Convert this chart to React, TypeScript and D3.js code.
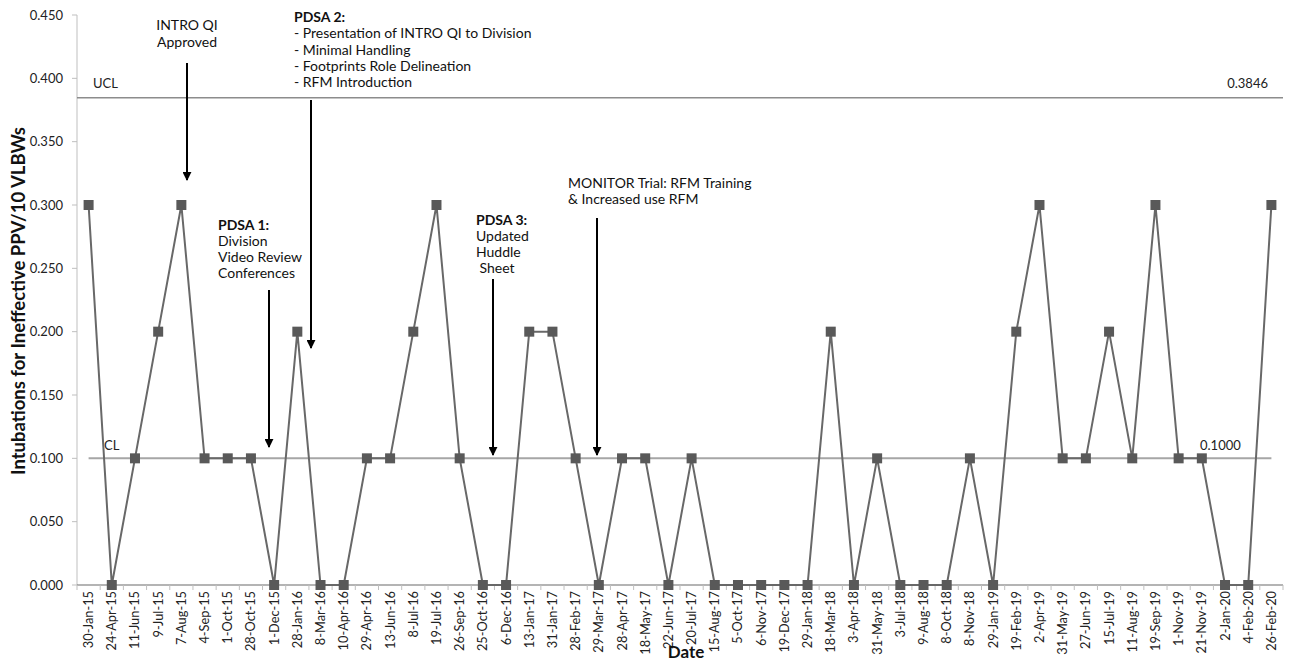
import React from "react";
import * as d3 from "d3";

const categories = [
  "30-Jan-15","24-Apr-15","11-Jun-15","9-Jul-15","7-Aug-15","4-Sep-15","1-Oct-15","28-Oct-15","1-Dec-15","28-Jan-16",
  "8-Mar-16","10-Apr-16","29-Apr-16","13-Jun-16","8-Jul-16","19-Jul-16","26-Sep-16","25-Oct-16","6-Dec-16","13-Jan-17",
  "31-Jan-17","28-Feb-17","29-Mar-17","28-Apr-17","18-May-17","22-Jun-17","20-Jul-17","15-Aug-17","5-Oct-17","6-Nov-17",
  "19-Dec-17","29-Jan-18","18-Mar-18","3-Apr-18","31-May-18","3-Jul-18","9-Aug-18","8-Oct-18","8-Nov-18","29-Jan-19",
  "19-Feb-19","2-Apr-19","31-May-19","27-Jun-19","15-Jul-19","11-Aug-19","19-Sep-19","1-Nov-19","21-Nov-19","2-Jan-20",
  "4-Feb-20","26-Feb-20",
];
const values = [
  0.3,0,0.1,0.2,0.3,0.1,0.1,0.1,0,0.2,
  0,0,0.1,0.1,0.2,0.3,0.1,0,0,0.2,
  0.2,0.1,0,0.1,0.1,0,0.1,0,0,0,
  0,0,0.2,0,0.1,0,0,0,0.1,0,
  0.2,0.3,0.1,0.1,0.2,0.1,0.3,0.1,0.1,0,
  0,0.3,
];
const yTicks = [0, 0.05, 0.1, 0.15, 0.2, 0.25, 0.3, 0.35, 0.4, 0.45];
const UCL = 0.3846;
const CL = 0.1;

type Ann = { lines: { t: string; bold?: boolean }[] };
const annotations: Ann[] = [
  { lines: [{ t: "INTRO QI" }, { t: "Approved" }] },
  { lines: [{ t: "PDSA 2:", bold: true }, { t: "- Presentation of INTRO QI to Division" }, { t: "- Minimal Handling" }, { t: "- Footprints Role Delineation" }, { t: "- RFM Introduction" }] },
  { lines: [{ t: "PDSA 1:", bold: true }, { t: "Division" }, { t: "Video Review" }, { t: "Conferences" }] },
  { lines: [{ t: "PDSA 3:", bold: true }, { t: "Updated" }, { t: "Huddle" }, { t: " Sheet" }] },
  { lines: [{ t: "MONITOR Trial: RFM Training" }, { t: "& Increased use RFM" }] },
];

// layout of annotations (pixel positions)
const annLayout = [
  { ax: 187, tx: 187, anchor: "middle", ty: 25, spacing: 17, from: 63, to: 180 },
  { ax: 311, tx: 294, anchor: "start", ty: 17, spacing: 16.3, from: 100, to: 348 },
  { ax: 269, tx: 218, anchor: "start", ty: 225, spacing: 16, from: 290, to: 447 },
  { ax: 493, tx: 476, anchor: "start", ty: 220, spacing: 16, from: 279, to: 455 },
  { ax: 597, tx: 568, anchor: "start", ty: 183, spacing: 16, from: 218, to: 455 },
];

export default function App() {
  const W = 1297, H = 662;
  const left = 77, right = 1283, top = 15, bottom = 585;
  const x = d3.scaleBand().domain(categories).range([left, right]).paddingInner(0).paddingOuter(0);
  const cx = (c: string) => (x(c) as number) + x.bandwidth() / 2;
  const y = d3.scaleLinear().domain([0, 0.45]).range([bottom, top]);
  const line = d3.line<number>().x((_, i) => cx(categories[i])).y((v) => y(v));
  const font = "Lato, 'Open Sans', sans-serif";
  const first = cx(categories[0]);
  const last = cx(categories[categories.length - 1]);
  return (
    <svg width={W} height={H} style={{ position: "absolute", left: 0, top: 0, background: "#fff" }} fontFamily={font}>
      <defs>
        <marker id="ah" viewBox="0 0 10 10" refX="9" refY="5" markerWidth="4.5" markerHeight="4.5" orient="auto">
          <path d="M0,0 L10,5 L0,10 z" fill="#000" />
        </marker>
      </defs>
      {/* y axis */}
      <line x1={left} x2={left} y1={top} y2={bottom} stroke="#bfbfbf" strokeWidth={1} />
      {yTicks.map((t) => (
        <g key={t}>
          <line x1={left - 5} x2={left} y1={y(t)} y2={y(t)} stroke="#bfbfbf" />
          <text x={left - 14} y={y(t)} dy="0.35em" textAnchor="end" fontSize={13} fill="#222">{t.toFixed(3)}</text>
        </g>
      ))}
      {/* x axis */}
      <line x1={left} x2={right} y1={bottom} y2={bottom} stroke="#6b6b6b" strokeWidth={1.2} />
      {categories.map((c, i) => (
        <line key={"t" + i} x1={(x(c) as number)} x2={(x(c) as number)} y1={bottom} y2={bottom + 5} stroke="#bfbfbf" />
      ))}
      <line x1={right} x2={right} y1={bottom} y2={bottom + 5} stroke="#bfbfbf" />
      {categories.map((c) => (
        <text key={c} transform={`translate(${cx(c) + 4.5},${bottom + 6}) rotate(-90)`} textAnchor="end" fontSize={12.8} fill="#222">{c}</text>
      ))}
      <text x={686} y={658} textAnchor="middle" fontSize={17} fontWeight="bold" fill="#111">Date</text>
      <text transform={`translate(25,301) rotate(-90)`} textAnchor="middle" fontSize={18.5} fontWeight="bold" fill="#111">Intubations for Ineffective PPV/10 VLBWs</text>
      {/* control lines */}
      <line x1={left} x2={right} y1={y(UCL)} y2={y(UCL)} stroke="#8c8c8c" strokeWidth={1.5} />
      <text x={93} y={y(UCL) - 14} dy="0.35em" fontSize={13} fill="#222">UCL</text>
      <text x={1268} y={y(UCL) - 14} dy="0.35em" textAnchor="end" fontSize={13} fill="#222">{UCL.toFixed(4)}</text>
      <line x1={first} x2={last} y1={y(CL)} y2={y(CL)} stroke="#a6a6a6" strokeWidth={2} />
      <text x={104} y={y(CL) - 13} dy="0.35em" fontSize={13} fill="#222">CL</text>
      <text x={1200} y={y(CL) - 13} dy="0.35em" fontSize={13} fill="#222">{CL.toFixed(4)}</text>
      {/* data */}
      <path d={line(values) as string} fill="none" stroke="#686868" strokeWidth={2} />
      {values.map((v, i) => (
        <rect key={i} x={cx(categories[i]) - 5} y={y(v) - 5} width={10} height={10} fill="#595959" />
      ))}
      {/* annotations */}
      {annotations.map((a, k) => {
        const L = annLayout[k];
        return (
          <g key={k}>
            {a.lines.map((l, j) => (
              <text key={j} x={L.tx} y={L.ty + j * L.spacing} dy="0.35em" textAnchor={L.anchor} fontSize={14} fontWeight={l.bold ? "bold" : "normal"} fill="#111" style={{ whiteSpace: "pre" }}>{l.t}</text>
            ))}
            <line x1={L.ax} x2={L.ax} y1={L.from} y2={L.to} stroke="#000" strokeWidth={2} markerEnd="url(#ah)" />
          </g>
        );
      })}
    </svg>
  );
}
